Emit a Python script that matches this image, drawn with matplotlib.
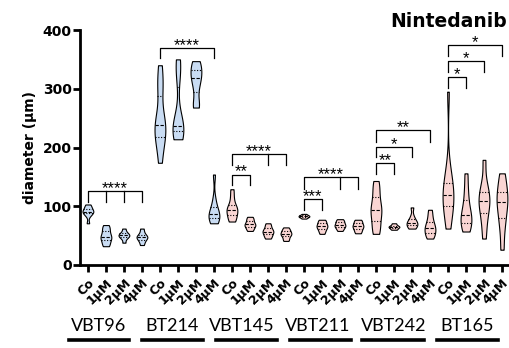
import numpy as np
import matplotlib
matplotlib.use("Agg")
import matplotlib.pyplot as plt

# Data (estimated diameters, µm) per cell line and treatment
GROUPS = ["VBT96", "BT214", "VBT145", "VBT211", "VBT242", "BT165"]
DOSES = ["Co", "1µM", "2µM", "4µM"]

SAMPLES = [
    # VBT96
    [71, 84, 88, 90, 91, 93, 96, 100, 103],
    [32, 36, 42, 46, 48, 52, 58, 63, 68],
    [38, 45, 48, 50, 51, 53, 56, 62],
    [34, 40, 44, 47, 48, 50, 55, 62],
    # BT214
    [174, 205, 215, 228, 236, 242, 256, 298, 312, 340],
    [214, 220, 226, 231, 234, 240, 250, 320, 340, 350],
    [268, 275, 300, 315, 322, 330, 340, 347],
    [71, 75, 80, 84, 86, 90, 98, 112, 154],
    # VBT145
    [74, 78, 85, 90, 94, 97, 102, 115, 129],
    [58, 62, 66, 68, 70, 74, 78, 82],
    [45, 49, 53, 56, 58, 61, 66, 71],
    [41, 45, 50, 52, 54, 57, 60, 64],
    # VBT211
    [79, 81, 82, 83, 84, 85, 87],
    [53, 58, 62, 65, 67, 70, 74, 77],
    [58, 62, 65, 67, 69, 72, 75, 78],
    [54, 58, 62, 65, 67, 70, 74, 77],
    # VBT242
    [53, 62, 75, 88, 94, 100, 115, 130, 143],
    [60, 62, 64, 65, 66, 68, 71],
    [62, 65, 68, 71, 73, 76, 83, 98],
    [45, 50, 55, 60, 63, 68, 74, 83, 94],
    # BT165
    [62, 80, 95, 105, 112, 119, 125, 135, 145, 165, 295],
    [57, 65, 72, 80, 85, 95, 110, 130, 156],
    [45, 70, 88, 100, 109, 115, 125, 140, 179],
    [26, 60, 80, 95, 107, 115, 125, 140, 156],
]
IS_BLUE = [True] * 8 + [False] * 16

# significance brackets: (control idx, compared idxs, bar height, drop bottom, label)
BRACKETS = [
    (0, [1, 2, 3], 126, 108, "****"),
    (4, [7], 370, 353, "****"),
    (8, [9], 154, 136, "**"),
    (8, [10, 11], 189, 170, "****"),
    (12, [13], 112, 94, "***"),
    (12, [14, 15], 150, 130, "****"),
    (16, [17], 173, 155, "**"),
    (16, [18], 201, 183, "*"),
    (16, [19], 229, 209, "**"),
    (20, [21], 320, 302, "*"),
    (20, [22], 348, 328, "*"),
    (20, [23], 374.5, 356, "*"),
]

BLUE = "#c9dcf3"
PINK = "#f9d5d3"

W, H = 509, 348
fig = plt.figure(figsize=(W / 100, H / 100), dpi=100)
ax = fig.add_axes([80 / W, 1 - 265 / H, 429 / W, 235 / H])

pos = np.arange(len(SAMPLES))
parts = ax.violinplot(SAMPLES, positions=pos, widths=0.6, showextrema=False,
                      bw_method=0.45, points=200)
for i, body in enumerate(parts["bodies"]):
    body.set_facecolor(BLUE if IS_BLUE[i] else PINK)
    body.set_edgecolor("black")
    body.set_linewidth(0.8)
    body.set_alpha(1)

    # median (dashed) and quartiles (dotted) spanning the violin width
    verts = body.get_paths()[0].vertices
    right = verts[verts[:, 0] >= pos[i]]
    order = np.argsort(right[:, 1])
    ry, rx = right[order, 1], right[order, 0]
    q1, med, q3 = np.percentile(SAMPLES[i], [25, 50, 75])
    for q, ls in [(q1, (0, (1, 1.5))), (med, (0, (3, 1.5))), (q3, (0, (1, 1.5)))]:
        hw = np.interp(q, ry, rx) - pos[i]
        ax.plot([pos[i] - hw, pos[i] + hw], [q, q], color="black", lw=0.8, ls=ls)

# brackets
for ctrl, others, ybar, ybot, label in BRACKETS:
    xr = max(others)
    ax.plot([ctrl, ctrl, xr, xr], [ybot, ybar, ybar, ybot], color="black", lw=0.9,
            clip_on=False)
    for o in others[:-1]:
        ax.plot([o, o], [ybar, ybot], color="black", lw=0.9, clip_on=False)
    ax.annotate(label, ((ctrl + xr) / 2, ybar), xytext=(0, -1.5),
                textcoords="offset points", ha="center", va="baseline",
                fontsize=12, family="Liberation Sans", clip_on=False)

ax.set_xlim(-0.44, 23.39)
ax.set_ylim(0, 400)
ax.set_yticks([0, 100, 200, 300, 400])
ax.set_xticks(pos)
ax.set_xticklabels(DOSES * len(GROUPS), rotation=45, ha="right",
                   rotation_mode="anchor", fontsize=9, fontweight="bold")
for lbl in ax.get_yticklabels():
    lbl.set_fontweight("bold")
    lbl.set_fontsize(10)
ax.tick_params(axis="both", width=2, length=5, direction="out")
ax.tick_params(axis="x", pad=3)
ax.tick_params(axis="y", pad=1)
for s in ["top", "right"]:
    ax.spines[s].set_visible(False)
for s in ["left", "bottom"]:
    ax.spines[s].set_linewidth(2)

ax.set_ylabel("diameter (µm)", fontsize=10, fontweight="bold", labelpad=4)

fig.text(507 / W, 1 - 27 / H, "Nintedanib", ha="right", va="baseline",
         fontsize=13.5, fontweight="bold")

# group labels with underline
label_centers = [99, 172, 242, 318, 394, 467]
under_spans = [(69, 129), (142, 203), (216, 277), (290, 351), (362, 424), (437, 498)]
for name, xc, (u0, u1) in zip(GROUPS, label_centers, under_spans):
    fig.text(xc / W, 1 - 326 / H, name, ha="center", va="center",
             fontsize=13, family="Lato")
    fig.add_artist(plt.Line2D([u0 / W, u1 / W], [1 - 339.5 / H, 1 - 339.5 / H],
                              color="black", lw=2.6, transform=fig.transFigure))

fig.savefig("out.png", dpi=100, facecolor="white")
